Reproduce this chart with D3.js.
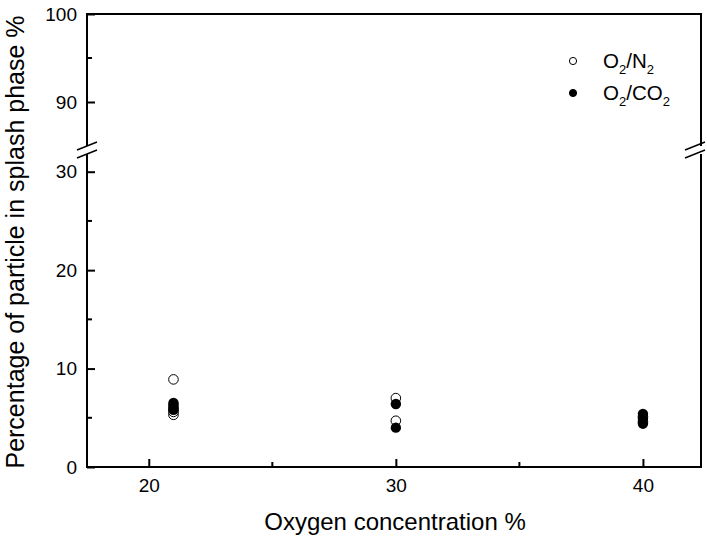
<!DOCTYPE html>
<html>
<head>
<meta charset="utf-8">
<title>Percentage of particle in splash phase</title>
<script src="https://cdn.jsdelivr.net/npm/d3@7"></script>
<style>
  body { margin: 0; background: #fff; }
  svg { display: block; font-family: "Liberation Sans", Arial, sans-serif; }
</style>
</head>
<body>
<script>
// measured points, x = oxygen concentration, y = percentage in splash phase
var xN2  = [21, 21, 21, 21, 30, 30, 40, 40];
var yN2  = [8.9, 5.3, 5.6, 5.9, 7.0, 4.7, 5.1, 4.6];
var xCO2 = [21, 21, 21, 21, 30, 30, 40, 40, 40];
var yCO2 = [6.5, 6.3, 6.1, 5.8, 6.4, 4.0, 5.4, 4.9, 4.4];

var xTicks = [20, 30, 40];
var xMinor = [25, 35];
var yTicksLow = [0, 10, 20, 30];
var yMinorLow = [5, 15, 25];
var yTicksHigh = [90, 100];
var yMinorHigh = [95];

var width = 707, height = 539;
var plotL = 87, plotR = 701, plotT = 14, plotB = 467;

var svg = d3.select("body").append("svg")
    .attr("width", width)
    .attr("height", height);

var x = d3.scaleLinear().domain([17.5, 42.35]).range([plotL, plotR]);
// broken y axis: two segments
var yLow = d3.scaleLinear().domain([0, 31.8]).range([plotB, 154]);
var yHigh = d3.scaleLinear().domain([85, 100]).range([146, plotT]);

function seg(x1, y1, x2, y2, w) {
  svg.append("line")
    .attr("x1", x1).attr("y1", y1).attr("x2", x2).attr("y2", y2)
    .attr("stroke", "#000").attr("stroke-width", w || 2);
}

// frame
seg(plotL, plotB, plotR, plotB);
seg(plotL, plotT, plotR, plotT);
seg(plotL, plotT - 1, plotL, yHigh(85));
seg(plotL, yLow(31.8), plotL, plotB + 1);
seg(plotR, plotT - 1, plotR, yHigh(85));
seg(plotR, yLow(31.8), plotR, plotB + 1);

// break marks
[plotL, plotR - 6].forEach(function (cx) {
  [yHigh(85), yLow(31.8)].forEach(function (cy) {
    seg(cx - 10, cy + 4, cx + 10, cy - 4, 1.5);
  });
});

// y axes (ticks pointing inward)
var axLow = d3.axisLeft(yLow).tickValues(yTicksLow).tickSize(-8).tickPadding(10);
var axHigh = d3.axisLeft(yHigh).tickValues(yTicksHigh).tickSize(-8).tickPadding(10);
[[axLow, yMinorLow, yLow], [axHigh, yMinorHigh, yHigh]].forEach(function (a) {
  var g = svg.append("g").attr("transform", "translate(" + plotL + ",0)").call(a[0]);
  g.select(".domain").remove();
  g.selectAll(".tick line").attr("stroke-width", 2);
  g.selectAll(".tick text").attr("font-size", 19).attr("fill", "#000")
    .attr("font-family", "Liberation Sans, Arial, sans-serif");
  a[1].forEach(function (v) { seg(plotL, a[2](v), plotL + 5, a[2](v)); });
});

// x axis
var gx = svg.append("g").attr("transform", "translate(0," + plotB + ")")
  .call(d3.axisBottom(x).tickValues(xTicks).tickSize(-8).tickPadding(12));
gx.select(".domain").remove();
gx.selectAll(".tick line").attr("stroke-width", 2);
gx.selectAll(".tick text").attr("font-size", 19).attr("fill", "#000")
  .attr("font-family", "Liberation Sans, Arial, sans-serif");
xMinor.forEach(function (v) { seg(x(v), plotB, x(v), plotB - 5); });

// points: open circles first, filled on top
svg.append("g").selectAll("circle").data(d3.range(xN2.length)).enter()
  .append("circle")
  .attr("cx", function (i) { return x(xN2[i]); })
  .attr("cy", function (i) { return yLow(yN2[i]); })
  .attr("r", 4.8)
  .attr("fill", "#fff").attr("stroke", "#000").attr("stroke-width", 1);

svg.append("g").selectAll("circle").data(d3.range(xCO2.length)).enter()
  .append("circle")
  .attr("cx", function (i) { return x(xCO2[i]); })
  .attr("cy", function (i) { return yLow(yCO2[i]); })
  .attr("r", 5.2)
  .attr("fill", "#000");

// legend
var legend = [
  { filled: false, parts: ["O", "2", "/N", "2"], y: 61 },
  { filled: true, parts: ["O", "2", "/CO", "2"], y: 93 }
];
legend.forEach(function (d) {
  svg.append("circle").attr("cx", 573).attr("cy", d.y).attr("r", 3.6)
    .attr("fill", d.filled ? "#000" : "#fff").attr("stroke", "#000").attr("stroke-width", 1);
  var t = svg.append("text").attr("x", 603).attr("y", d.y + 7).attr("font-size", 20.5);
  d.parts.forEach(function (p, k) {
    var s = t.append("tspan").text(p);
    if (k % 2 === 1) s.attr("font-size", 13).attr("dy", 6);
    else if (k > 0) s.attr("dy", -6);
  });
});

// axis titles
svg.append("text")
  .attr("x", 395).attr("y", 530)
  .attr("text-anchor", "middle").attr("font-size", 24)
  .text("Oxygen concentration %");

svg.append("text")
  .attr("transform", "translate(24," + 242 + ") rotate(-90)")
  .attr("text-anchor", "middle").attr("font-size", 25)
  .text("Percentage of particle in splash phase %");
</script>
</body>
</html>
